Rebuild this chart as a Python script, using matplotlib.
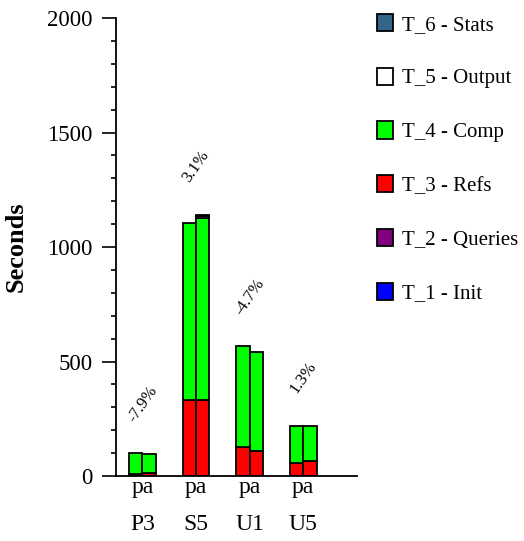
import matplotlib
matplotlib.use("Agg")
import matplotlib.pyplot as plt
from matplotlib.patches import Patch
import numpy as np

plt.rcParams['font.family'] = ['Liberation Serif', 'DejaVu Serif']

groups = ["P3", "S5", "U1", "U5"]
sub_label = "pa"
pct_labels = ["-7.9%", "3.1%", "-4.7%", "1.3%"]
series = ["T_1 - Init", "T_2 - Queries", "T_3 - Refs", "T_4 - Comp", "T_5 - Output", "T_6 - Stats"]
colors = ["#0000ff", "#800080", "#ff0000", "#00ff00", "#ffffff", "#336688"]

# values per series: [group][bar]
t1 = [[0, 0], [0, 0], [0, 0], [0, 0]]
t2 = [[0, 0], [0, 0], [0, 0], [0, 0]]
t3 = [[10, 14], [332, 332], [127, 108], [57, 67]]
t4 = [[90, 80], [772, 794], [441, 432], [160, 153]]
t5 = [[0, 0], [0, 8], [0, 0], [0, 0]]
t6 = [[0, 0], [0, 7], [0, 0], [0, 0]]
data = [t1, t2, t3, t4, t5, t6]

fig = plt.figure(figsize=(5.24, 5.41), dpi=100)
ax = fig.add_axes([0.2208, 0.1201, 0.46, 0.8466])

width = 0.25
offsets = [-0.125, 0.125]
gx = np.arange(len(groups))
for g in range(len(groups)):
    for b in range(2):
        x = gx[g] + offsets[b]
        bottom = 0
        for s in range(len(series)):
            v = data[s][g][b]
            if v > 0:
                ax.bar(x, v, width=width, bottom=bottom, color=colors[s],
                       edgecolor="black", linewidth=1.3)
            bottom += v
    tot = max(sum(data[s][g][b] for s in range(len(series))) for b in range(2))
    ax.text(gx[g], tot + 212, pct_labels[g], rotation=55, ha="center", va="center",
            fontsize=12)
    ax.text(gx[g], -0.118, groups[g], transform=ax.get_xaxis_transform(),
            ha="center", va="baseline", fontsize=17)

ax.set_xticks(gx)
ax.set_xticklabels([sub_label] * len(groups), fontsize=17)
ax.tick_params(axis="x", length=0, pad=1)
ax.set_xlim(-0.5, 4.0)
ax.set_ylim(0, 2000)
ax.set_yticks([0, 500, 1000, 1500, 2000])
ax.set_yticks(np.arange(0, 2001, 100), minor=True)
ax.tick_params(axis="y", which="major", length=10, width=1.2, labelsize=16.5, pad=6.5)
ax.tick_params(axis="y", which="minor", length=3.6, width=1.2)
for sp in ["top", "right"]:
    ax.spines[sp].set_visible(False)
for sp in ["left", "bottom"]:
    ax.spines[sp].set_linewidth(1.3)
ax.set_ylabel("Seconds", fontsize=19, fontweight="bold")
ax.yaxis.set_label_coords(-0.364, 0.5)

handles = [Patch(facecolor=colors[i], edgecolor="black", linewidth=1.3, label=series[i])
           for i in range(len(series))][::-1]
fig.legend(handles=handles, loc="upper left", bbox_to_anchor=(0.7195, 0.9745),
           frameon=False, fontsize=15, handlelength=0.75, handleheight=0.9,
           labelspacing=1.58, handletextpad=0.45, borderpad=0, borderaxespad=0)

fig.savefig("out.png", dpi=100)
